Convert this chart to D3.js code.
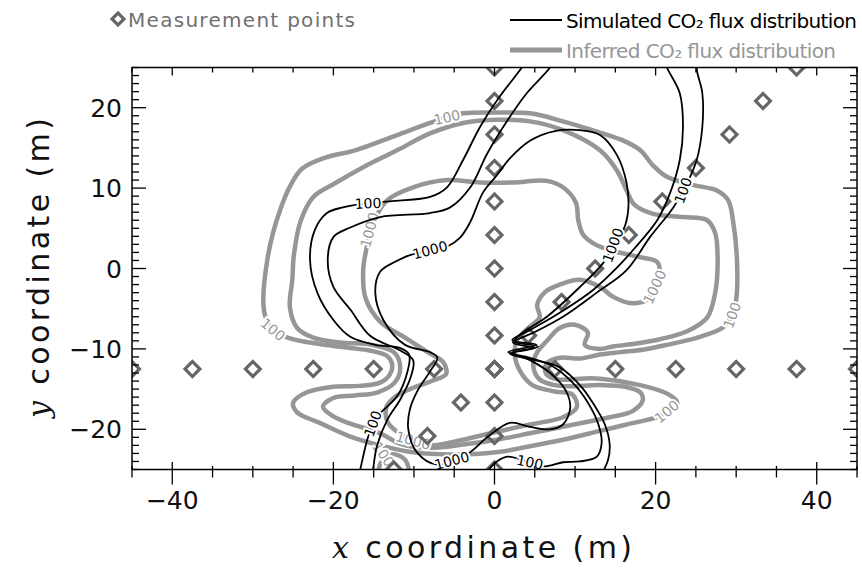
<!DOCTYPE html>
<html lang="en">
<head>
<meta charset="UTF-8">
<title>CO2 flux distribution</title>
<script src="https://d3js.org/d3.v7.min.js"></script>
<style>
  body { margin: 0; background: #fff; }
  text { font-family: "DejaVu Sans", sans-serif; }
  .tick-label { font-size: 25px; fill: #111; }
  .title { font-size: 30px; fill: #111; }
  .sim { fill: none; stroke: #000; stroke-width: 1.8px; stroke-linejoin: round; }
  .inf { fill: none; stroke: #969696; stroke-width: 4.5px; stroke-linejoin: round; }
  .point { fill: none; stroke: #666; stroke-width: 3.2px; }
  .clabel { font-size: 14px; paint-order: stroke; stroke: #fff; stroke-width: 4px;
            text-anchor: middle; dominant-baseline: central; }
</style>
</head>
<body>
<script>
    const width = 862;
    const height = 571;

    // measurement points (m)
    const pointsRow = [[-45,-12.5],[-37.5,-12.5],[-30,-12.5],[-22.5,-12.5],[-15,-12.5],[-7.5,-12.5],[0,-12.5],
        [7.5,-12.5],[15,-12.5],[22.5,-12.5],[30,-12.5],[37.5,-12.5],[45,-12.5]];
    const pointsColumn = [[0,25],[0,20.83],[0,16.67],[0,12.5],[0,8.33],[0,4.17],[0,0],
        [0,-4.17],[0,-8.33],[0,-12.5],[0,-16.67],[0,-20.83],[0,-25]];
    const pointsDiagonal = [[-12.5,-25],[-8.33,-20.83],[-4.17,-16.67],[0,-12.5],[4.17,-8.33],[8.33,-4.17],[12.5,0],
        [16.67,4.17],[20.83,8.33],[25,12.5],[29.17,16.67],[33.33,20.83],[37.5,25]];

    // simulated flux contours (black)
    const sim100West = [[4.4,26.5],[3.4,25.0],[0.3,20.9],[-1.8,17.6],[-3.9,13.5],[-5.9,10.1],[-8.0,8.9],
        [-12.4,8.4],[-15.8,8.1],[-18.8,7.6],[-20.8,6.9],[-22.3,4.8],[-22.9,1.1],[-22.0,-3.0],[-20.0,-6.4],
        [-17.9,-8.5],[-14.8,-9.5],[-11.7,-9.9],[-10.6,-10.7],[-10.8,-12.8],[-12.1,-15.9],[-14.2,-18.0],
        [-15.1,-19.2],[-15.8,-21.3],[-16.4,-23.8],[-16.7,-25.2],[-16.9,-26.5]];
    const sim100WestInner = [[7.8,26.5],[6.9,25.0],[4.0,21.8],[1.6,18.4],[-0.9,14.3],[-3.0,10.1],[-5.5,7.6],
        [-8.0,6.9],[-14.2,6.4],[-17.9,5.1],[-20.0,3.9],[-20.7,1.1],[-20.0,-2.3],[-17.9,-5.1],[-15.4,-8.4],
        [-11.7,-10.2],[-10.1,-11.4],[-10.4,-13.5],[-11.7,-16.3],[-13.3,-18.8],[-14.6,-22.1],[-15.1,-25.2],
        [-15.3,-26.5]];
    const sim1000 = [[2.3,-9.2],[3.5,-8.0],[6.5,-6.0],[10.6,-2.3],[13.5,0.7],[14.7,2.9],[16.0,4.8],[16.6,7.3],
        [16.4,10.6],[15.2,14.1],[13.1,16.6],[10.6,17.2],[7.5,17.1],[4.4,15.9],[1.9,13.7],[0.3,11.6],
        [-1.4,9.5],[-3.0,5.8],[-4.3,3.8],[-5.9,2.7],[-8.4,2.0],[-10.1,1.8],[-12.4,0.8],[-14.2,-0.4],
        [-14.8,-3.0],[-13.8,-6.4],[-11.1,-9.5],[-8.0,-10.4],[-7.1,-11.1],[-8.0,-12.8],[-9.5,-15.1],
        [-10.5,-17.5],[-10.7,-20.0],[-9.6,-22.9],[-7.1,-24.4],[-3.4,-23.1],[-0.9,-21.0],[1.9,-19.2],
        [4.4,-19.7],[6.9,-20.0],[8.5,-19.4],[9.4,-17.3],[8.8,-15.1],[6.9,-13.0],[4.4,-11.4],[2.3,-10.5],
        [5.0,-9.9]];
    const sim100East = [[25.5,26.5],[25.1,25.0],[25.8,21.8],[25.8,17.6],[25.1,13.5],[23.9,10.6],[22.2,7.6],
        [19.3,3.9],[16.4,-0.2],[12.7,-3.0],[8.5,-6.0],[4.8,-8.0],[2.5,-9.1],[5.4,-9.7],[1.9,-10.6],
        [5.0,-11.4],[8.1,-12.3],[10.6,-14.5],[12.2,-16.7],[13.7,-19.4],[14.3,-21.9],[14.1,-23.8],[13.3,-25.6]];
    const sim100EastInner = [[20.9,26.5],[21.4,25.0],[23.0,21.8],[23.4,17.6],[23.0,13.5],[21.8,9.4],[20.2,6.0],
        [17.2,2.3],[15.2,0.1],[12.2,-2.7],[8.1,-5.5],[4.5,-7.6],[2.2,-8.9],[5.2,-9.5],[1.7,-10.4],
        [4.4,-11.1],[7.1,-12.1],[9.7,-14.2],[11.6,-16.7],[12.9,-19.4],[13.3,-21.7],[12.7,-23.4],
        [10.6,-24.0],[8.5,-24.1],[6.3,-24.6],[4.4,-24.1],[1.6,-23.4],[0.3,-24.0],[-0.9,-25.2],[-1.8,-26.2]];

    // inferred flux contours (grey)
    const inf100 = [[13.1,-10.7],[10.6,-11.2],[8.1,-11.1],[6.4,-11.9],[6.4,-13.1],[7.9,-13.8],[10.6,-13.7],
        [13.1,-13.7],[18.1,-14.5],[21.5,-15.6],[22.7,-16.7],[21.8,-17.7],[20.2,-18.5],[16.4,-19.4],
        [13.1,-20.2],[8.5,-21.3],[4.4,-22.1],[0.7,-22.8],[-3.0,-23.1],[-6.8,-23.1],[-10.5,-22.8],
        [-14.2,-22.0],[-17.9,-20.9],[-21.7,-19.2],[-24.5,-17.9],[-25.0,-16.7],[-23.3,-15.4],[-20.0,-14.7],
        [-16.7,-14.6],[-14.2,-14.2],[-13.0,-13.2],[-12.7,-12.0],[-13.3,-10.9],[-15.5,-10.2],[-17.9,-9.9],
        [-21.7,-9.4],[-25.4,-8.7],[-27.2,-7.8],[-28.4,-6.1],[-28.7,-3.9],[-28.2,1.1],[-27.5,4.4],
        [-26.6,7.3],[-25.5,10.0],[-23.9,12.4],[-21.0,13.8],[-17.3,14.7],[-12.1,16.6],[-8.0,18.1],
        [-5.9,18.8],[-3.9,19.3],[0.3,19.4],[4.4,19.3],[8.5,18.3],[13.1,16.9],[16.0,15.9],[18.1,14.7],
        [19.7,12.8],[21.4,11.4],[24.6,10.4],[27.6,9.7],[29.0,8.5],[29.6,6.0],[30.1,1.1],[30.0,-3.9],
        [29.5,-5.8],[28.4,-7.3],[25.5,-8.5],[21.4,-9.5],[18.4,-10.1],[15.6,-10.4]];
    const inf100Inner = [[13.1,-10.0],[11.2,-9.5],[11.6,-8.0],[10.0,-7.0],[8.1,-7.4],[6.6,-8.9],[5.3,-10.4],
        [4.8,-12.0],[5.6,-13.8],[8.1,-14.6],[13.1,-14.5],[16.2,-14.7],[18.1,-15.4],[18.4,-16.4],
        [17.2,-17.7],[14.3,-18.5],[9.4,-19.5],[4.4,-20.5],[0.3,-21.3],[-3.9,-21.9],[-8.0,-22.3],
        [-11.7,-21.8],[-14.2,-20.5],[-17.9,-19.3],[-20.0,-18.4],[-21.3,-17.2],[-20.0,-16.1],[-17.3,-15.8],
        [-14.5,-15.4],[-12.4,-14.2],[-11.7,-12.3],[-12.5,-10.4],[-15.2,-9.5],[-19.2,-9.2],[-22.5,-8.6],
        [-24.5,-7.4],[-25.4,-4.8],[-25.1,-1.4],[-24.9,1.7],[-24.1,5.8],[-22.5,8.9],[-19.8,10.6],
        [-16.3,12.6],[-12.1,14.7],[-8.0,16.8],[-3.9,18.1],[0.3,18.5],[4.4,18.3],[8.5,17.2],[13.1,14.7],
        [15.2,12.2],[16.4,9.7],[17.4,7.9],[19.7,6.8],[23.4,6.4],[26.4,6.0],[27.4,4.4],[27.7,1.1],
        [27.4,-3.0],[26.4,-6.1],[23.9,-7.8],[20.5,-8.8],[17.2,-9.4],[14.7,-9.7]];
    const inf1000 = [[20.5,-0.8],[20.2,0.8],[18.1,1.4],[14.3,2.3],[12.5,3.0],[11.0,4.2],[10.4,6.0],[10.1,8.2],
        [8.5,10.1],[6.5,10.9],[2.3,10.7],[-1.8,10.7],[-5.9,11.0],[-10.1,10.1],[-13.3,8.5],[-15.1,5.6],
        [-15.8,2.9],[-16.3,-0.2],[-16.0,-3.7],[-14.2,-6.6],[-11.1,-8.6],[-8.3,-10.4],[-6.4,-11.6],
        [-6.0,-13.1],[-7.8,-14.0],[-10.5,-15.0],[-12.4,-16.0],[-13.4,-17.2],[-13.3,-19.0],[-12.1,-20.3],
        [-10.1,-21.4],[-8.0,-22.0],[-3.9,-21.3],[0.3,-20.3],[4.4,-19.4],[8.5,-18.5],[10.2,-17.3],
        [9.7,-15.7],[7.5,-15.3],[4.7,-14.5],[3.2,-12.8],[2.5,-10.7],[2.8,-8.9],[4.2,-7.4],[5.6,-6.1],
        [5.3,-4.5],[6.3,-2.9],[8.1,-2.0],[10.6,-1.4],[13.1,-2.3],[14.7,-3.5],[16.8,-4.3],[18.9,-3.9],
        [19.9,-2.5]];
    const inf100South = [[-14.5,-25.7],[-14.0,-24.0],[-12.6,-23.1],[-11.1,-23.8],[-10.5,-25.7]];

    // contour labels [x, y, text, angle]
    const simLabels = [[-15.7,8.1,"100",-3],[-8.0,2.3,"1000",-15],[14.7,2.9,"1000",-70],[23.4,9.7,"100",-70],
        [-15.1,-19.3,"100",-70],[-5.3,-23.9,"1000",-15],[4.4,-24.1,"100",12]];
    const infLabels = [[-5.9,18.8,"100",-12],[-27.5,-7.6,"100",40],[29.5,-5.8,"100",-70],[21.4,-17.8,"100",-40],
        [-15.5,4.8,"1000",-75],[19.9,-2.3,"1000",-65],[-10.1,-21.4,"1000",15],[-13.8,-23.1,"100",55]];

    const xLabelTicks = [-40, -20, 0, 20, 40];
    const yLabelTicks = [-20, -10, 0, 10, 20];

    const x = d3.scaleLinear().domain([-45, 45]).range([132, 857]);
    const y = d3.scaleLinear().domain([-25, 25]).range([469.5, 67.5]);

    const svg = d3.select("body").append("svg").attr("width", width).attr("height", height);

    svg.append("defs").append("clipPath").attr("id", "plot")
        .append("rect")
        .attr("x", x(-45)).attr("y", y(25))
        .attr("width", x(45) - x(-45)).attr("height", y(-25) - y(25));

    const open = d3.line().x(d => x(d[0])).y(d => y(d[1])).curve(d3.curveCatmullRom.alpha(0.5));
    const closed = d3.line().x(d => x(d[0])).y(d => y(d[1])).curve(d3.curveCatmullRomClosed.alpha(0.5));

    const plot = svg.append("g").attr("clip-path", "url(#plot)");

    // inferred
    const inf = plot.append("g");
    [inf100, inf100Inner, inf1000].forEach(c => inf.append("path").attr("class", "inf").attr("d", closed(c)));
    inf.append("path").attr("class", "inf").attr("d", open(inf100South));
    drawLabels(plot.append("g"), infLabels, "#969696");

    // measurement points
    const diamond = d3.symbol(d3.symbolSquare, 110);
    plot.append("g").selectAll("path")
        .data(pointsRow.concat(pointsColumn, pointsDiagonal))
        .join("path")
        .attr("class", "point")
        .attr("d", diamond)
        .attr("transform", d => `translate(${x(d[0])},${y(d[1])}) rotate(45)`);

    // simulated
    const sim = plot.append("g");
    [sim100West, sim100WestInner, sim100East, sim100EastInner]
        .forEach(c => sim.append("path").attr("class", "sim").attr("d", open(c)));
    sim.append("path").attr("class", "sim").attr("d", closed(sim1000));
    drawLabels(plot.append("g"), simLabels, "#000");

    function drawLabels(g, data, colour) {
        g.selectAll("text")
            .data(data)
            .join("text")
            .attr("class", "clabel")
            .attr("fill", colour)
            .attr("transform", d => `translate(${x(d[0])},${y(d[1])}) rotate(${d[3]})`)
            .text(d => d[2]);
    }

    // frame and ticks
    const axes = svg.append("g").attr("stroke", "#000").attr("stroke-width", 1.3);
    axes.append("rect").attr("fill", "none").attr("stroke-width", 1.5)
        .attr("x", x(-45)).attr("y", y(25))
        .attr("width", x(45) - x(-45)).attr("height", y(-25) - y(25));

    const xTicks = x.ticks(18);
    const yTicks = y.ticks(50);
    const isMajorX = v => v % 20 === 0;
    const isMajorY = v => v % 10 === 0;

    axes.selectAll(".xb").data(xTicks).join("line")
        .attr("x1", d => x(d)).attr("x2", d => x(d))
        .attr("y1", d => y(-25) - (isMajorX(d) ? 7.5 : 3.5))
        .attr("y2", d => y(-25) + (isMajorX(d) ? 15 : 8));
    axes.selectAll(".xt").data(xTicks).join("line")
        .attr("x1", d => x(d)).attr("x2", d => x(d))
        .attr("y1", y(25))
        .attr("y2", d => y(25) + (isMajorX(d) ? 8 : 5));
    axes.selectAll(".yl").data(yTicks).join("line")
        .attr("y1", d => y(d)).attr("y2", d => y(d))
        .attr("x1", x(-45))
        .attr("x2", d => x(-45) + (isMajorY(d) ? 14 : 7));
    axes.selectAll(".yr").data(yTicks).join("line")
        .attr("y1", d => y(d)).attr("y2", d => y(d))
        .attr("x1", x(45))
        .attr("x2", d => x(45) - (isMajorY(d) ? 14 : 7));

    const fmt = d3.format("d");
    svg.append("g").selectAll("text").data(xLabelTicks).join("text")
        .attr("class", "tick-label")
        .attr("text-anchor", "middle")
        .attr("x", d => x(d)).attr("y", 509)
        .text(fmt);
    svg.append("g").selectAll("text").data(yLabelTicks).join("text")
        .attr("class", "tick-label")
        .attr("text-anchor", "end")
        .attr("x", 122).attr("y", d => y(d) + 9)
        .text(fmt);

    // axis titles
    const xt = svg.append("text").attr("class", "title")
        .attr("text-anchor", "middle").attr("x", 482).attr("y", 558)
        .attr("textLength", 300).attr("lengthAdjust", "spacing");
    xt.append("tspan").attr("font-family", "DejaVu Serif").attr("font-style", "italic").text("x");
    xt.append("tspan").text(" coordinate (m)");

    const yt = svg.append("text").attr("class", "title")
        .attr("text-anchor", "middle")
        .attr("transform", "translate(49,268) rotate(-90)")
        .attr("textLength", 300).attr("lengthAdjust", "spacing");
    yt.append("tspan").attr("font-family", "DejaVu Serif").attr("font-style", "italic").text("y");
    yt.append("tspan").text(" coordinate (m)");

    // legend
    const legend = svg.append("g");
    legend.append("path").attr("class", "point").attr("d", d3.symbol(d3.symbolSquare, 70))
        .attr("stroke", "#555")
        .attr("transform", "translate(118,19) rotate(45)");
    legend.append("text").attr("x", 128).attr("y", 27).attr("font-size", 20).attr("fill", "#707070")
        .attr("textLength", 227).attr("lengthAdjust", "spacing").text("Measurement points");
    legend.append("line").attr("x1", 510).attr("x2", 562).attr("y1", 20).attr("y2", 20)
        .attr("stroke", "#000").attr("stroke-width", 2);
    legend.append("text").attr("x", 566).attr("y", 28).attr("font-size", 20).attr("fill", "#000")
        .attr("textLength", 291).attr("lengthAdjust", "spacing").text("Simulated CO₂ flux distribution");
    legend.append("line").attr("x1", 510).attr("x2", 562).attr("y1", 50).attr("y2", 50)
        .attr("stroke", "#969696").attr("stroke-width", 5);
    legend.append("text").attr("x", 566).attr("y", 58).attr("font-size", 20).attr("fill", "#969696")
        .attr("textLength", 270).attr("lengthAdjust", "spacing").text("Inferred CO₂ flux distribution");
</script>
</body>
</html>
